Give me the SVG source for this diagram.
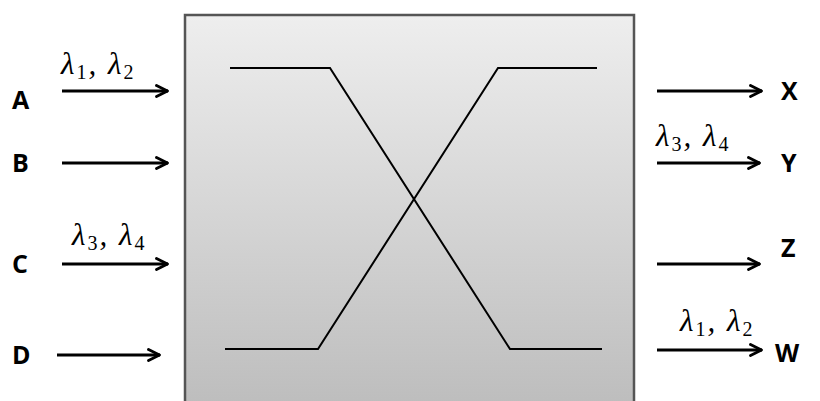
<svg xmlns="http://www.w3.org/2000/svg" width="820" height="401" viewBox="0 0 820 401">
<defs>
<linearGradient id="g" x1="0" y1="0" x2="0" y2="1">
<stop offset="0" stop-color="#eeeeee"/>
<stop offset="1" stop-color="#bcbcbc"/>
</linearGradient>
<marker id="ah" viewBox="0 0 14 14" refX="13" refY="7" markerWidth="14" markerHeight="14" markerUnits="userSpaceOnUse" orient="auto">
<path d="M1.5,1.5 L12.5,7 L1.5,12.5" fill="none" stroke="#000" stroke-width="2.8" stroke-linecap="round" stroke-linejoin="round"/>
</marker>
</defs>
<style>
.lbl{font-family:"Open Sans","DejaVu Sans",sans-serif;font-weight:bold;font-size:25px;fill:#000}
.lam{font-family:"Liberation Serif",serif;font-style:italic;font-size:31px;letter-spacing:2px;fill:#000}
.sub{font-size:20px;font-style:normal}
.arr{stroke:#000;stroke-width:3.2;fill:none;marker-end:url(#ah)}
.path{stroke:#000;stroke-width:2;fill:none}
</style>
<rect width="820" height="401" fill="#fff"/>
<g id="switch">
<rect x="185" y="15" width="449" height="400" fill="url(#g)" stroke="#555" stroke-width="2.5"/>
</g>
<g id="paths">
<polyline class="path" points="230,68 330,68 510,349 602,349"/>
<polyline class="path" points="225,349 318,349 498,68 597,68"/>
</g>
<g id="inputs">
<g id="A"><text class="lbl" x="12" y="109">A</text></g>
<g id="B"><text class="lbl" x="12" y="172">B</text></g>
<g id="C"><text class="lbl" x="12" y="273">C</text></g>
<g id="D"><text class="lbl" x="12" y="364">D</text></g>
</g>
<g id="outputs">
<g id="X"><text class="lbl" x="781" y="100">X</text></g>
<g id="Y"><text class="lbl" x="781" y="172">Y</text></g>
<g id="Z"><text class="lbl" x="781" y="257">Z</text></g>
<g id="W"><text class="lbl" x="775" y="362">W</text></g>
</g>
<g id="connectors">
<line class="arr" x1="62" y1="91" x2="168" y2="91"/>
<line class="arr" x1="62" y1="163" x2="168" y2="163"/>
<line class="arr" x1="62" y1="264" x2="168" y2="264"/>
<line class="arr" x1="57" y1="355" x2="160" y2="355"/>
<line class="arr" x1="657" y1="91" x2="762" y2="91"/>
<line class="arr" x1="657" y1="163" x2="760" y2="163"/>
<line class="arr" x1="657" y1="264" x2="760" y2="264"/>
<line class="arr" x1="657" y1="350" x2="762" y2="350"/>
</g>
<g id="labels">
<text class="lam" x="61" y="74">λ<tspan class="sub" dy="5">1</tspan><tspan dy="-5">, λ</tspan><tspan class="sub" dy="5">2</tspan></text>
<text class="lam" x="72" y="245">λ<tspan class="sub" dy="5">3</tspan><tspan dy="-5">, λ</tspan><tspan class="sub" dy="5">4</tspan></text>
<text class="lam" x="656" y="146">λ<tspan class="sub" dy="5">3</tspan><tspan dy="-5">, λ</tspan><tspan class="sub" dy="5">4</tspan></text>
<text class="lam" x="680" y="331">λ<tspan class="sub" dy="5">1</tspan><tspan dy="-5">, λ</tspan><tspan class="sub" dy="5">2</tspan></text>
</g>
</svg>
